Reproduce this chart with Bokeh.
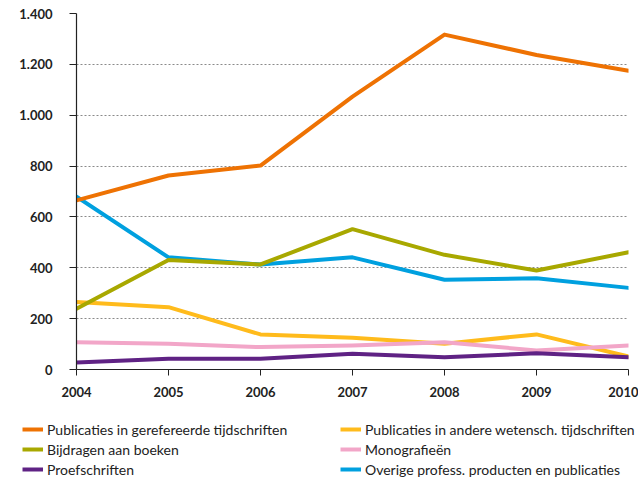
from bokeh.plotting import figure
from bokeh.layouts import column
from bokeh.models import Range1d, FixedTicker, Legend, LegendItem
from bokeh.embed import file_html
from bokeh.resources import INLINE

years = [2004, 2005, 2006, 2007, 2008, 2009, 2010]
year_labels = ["2004", "2005", "2006", "2007", "2008", "2009", "2010"]
y_ticks = [0, 200, 400, 600, 800, 1000, 1200, 1400]
y_tick_labels = ["0", "200", "400", "600", "800", "1.000", "1.200", "1.400"]

gerefereerd = [665, 763, 802, 1073, 1317, 1237, 1175]
andere_tijdschriften = [265, 245, 138, 125, 101, 138, 51]
bijdragen = [239, 431, 413, 552, 451, 389, 461]
monografieen = [107, 101, 88, 94, 107, 75, 94]
proefschriften = [28, 42, 42, 62, 48, 64, 48]
overige = [680, 441, 413, 441, 353, 359, 321]

series_names = [
    "Publicaties in gerefereerde tijdschriften",
    "Publicaties in andere wetensch. tijdschriften",
    "Bijdragen aan boeken",
    "Monografieën",
    "Proefschriften",
    "Overige profess. producten en publicaties",
]
series_values = [gerefereerd, andere_tijdschriften, bijdragen, monografieen, proefschriften, overige]
series_colors = ["#EE7203", "#FFBB1C", "#A8A800", "#F2A6C8", "#5F2284", "#00A0DF"]

FONT = "Lato"
TXT = "#222222"
W = 638

p = figure(width=W, height=410, output_backend="svg", toolbar_location=None,
           x_range=Range1d(2004, 2010), y_range=Range1d(0, 1400),
           min_border_left=76, min_border_right=W - 628, min_border_top=13, min_border_bottom=41)
p.outline_line_color = None
p.frame_align = False

draw_order = [5, 0, 1, 3, 4, 2]
for i in draw_order:
    p.line(years, series_values[i], line_color=series_colors[i], line_width=4,
           line_cap="round", line_join="round")

p.xgrid.grid_line_color = None
p.ygrid.grid_line_color = "#8a8a8a"
p.ygrid.grid_line_dash = "2 2"
p.ygrid.grid_line_width = 1
p.ygrid.ticker = FixedTicker(ticks=y_ticks[1:])

xa = p.xaxis[0]
xa.ticker = FixedTicker(ticks=years)
xa.major_label_overrides = {y: l for y, l in zip(years, year_labels)}
xa.major_tick_in = 0
xa.major_tick_out = 6
xa.minor_tick_line_color = None
xa.axis_line_color = TXT
xa.axis_line_width = 1.2
xa.major_tick_line_color = TXT
xa.major_label_standoff = 11
xa.major_label_text_font = FONT
xa.major_label_text_font_style = "bold"
xa.major_label_text_font_size = "13px"
xa.major_label_text_color = TXT

ya = p.yaxis[0]
ya.ticker = FixedTicker(ticks=y_ticks)
ya.major_label_overrides = {v: l for v, l in zip(y_ticks, y_tick_labels)}
ya.major_tick_in = 0
ya.major_tick_out = 7
ya.minor_tick_line_color = None
ya.axis_line_color = TXT
ya.axis_line_width = 1.2
ya.major_tick_line_color = TXT
ya.major_label_standoff = 17
ya.major_label_text_font = FONT
ya.major_label_text_font_style = "bold"
ya.major_label_text_font_size = "13px"
ya.major_label_text_color = TXT

# legend panel: the series are drawn here outside the visible range, only the legend shows
pl = figure(width=W, height=70, output_backend="svg", toolbar_location=None,
            x_axis_type=None, y_axis_type=None,
            x_range=Range1d(2004, 2010), y_range=Range1d(5000, 6000),
            min_border_left=0, min_border_right=0, min_border_top=0, min_border_bottom=0)
pl.outline_line_color = None
pl.frame_align = False
pl.xgrid.grid_line_color = None
pl.ygrid.grid_line_color = None
swatches = [pl.line(years, v, line_color=c, line_width=4) for v, c in zip(series_values, series_colors)]
legend_order = [0, 2, 4, 1, 3, 5]  # column-major fill -> rows as in the reference
items = [LegendItem(label=series_names[i], renderers=[swatches[i]]) for i in legend_order]
legend = Legend(items=items, ncols=2, location=(22, 1),
                border_line_color=None, background_fill_alpha=0,
                padding=0, margin=0, spacing=0,
                glyph_width=21, glyph_height=20, label_height=20, label_width=293,
                label_standoff=4,
                label_text_font=FONT, label_text_font_size="14px", label_text_color=TXT)
pl.add_layout(legend, "center")

layout = column(p, pl)
open("out.html", "w").write(file_html(layout, INLINE))
